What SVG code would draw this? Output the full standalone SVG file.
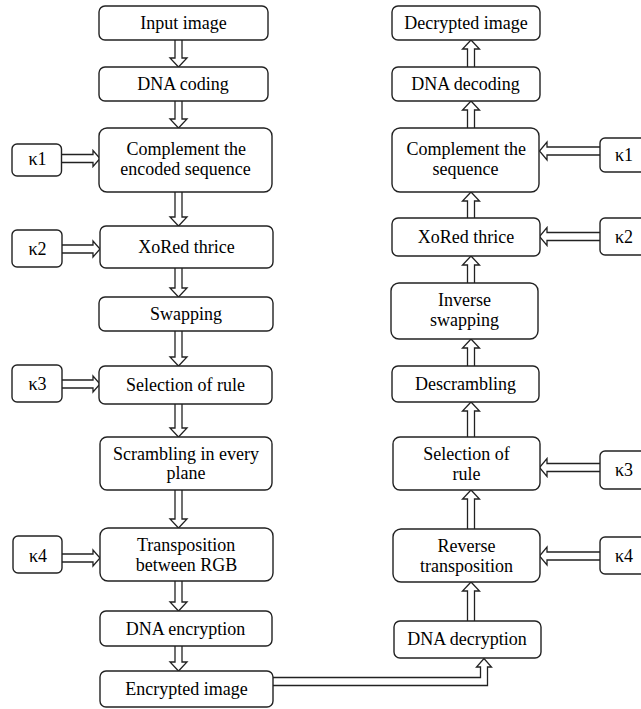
<svg xmlns="http://www.w3.org/2000/svg" width="641" height="709" viewBox="0 0 641 709">
<style>
.b{fill:#fff;stroke:#222;stroke-width:1.4}
.a{fill:#fff;stroke:#222;stroke-width:1.3}
</style>
<rect width="641" height="709" fill="#fff"/>
<g id="connectors">
<path class="a" d="M175 40V58H170L178.5 67L187 58H182V40"/>
<path class="a" d="M175 101V119H170L178.5 128L187 119H182V101"/>
<path class="a" d="M175 192V217H170L178.5 226L187 217H182V192"/>
<path class="a" d="M175 268V288H170L178.5 297L187 288H182V268"/>
<path class="a" d="M175 331V357H170L178.5 366L187 357H182V331"/>
<path class="a" d="M175 404V428H170L178.5 437L187 428H182V404"/>
<path class="a" d="M175 490V519H170L178.5 528L187 519H182V490"/>
<path class="a" d="M175 581V602H170L178.5 611L187 602H182V581"/>
<path class="a" d="M175 646V662H170L178.5 671L187 662H182V646"/>
<path class="a" d="M467.5 67V49H462.5L471 40L479.5 49H474.5V67"/>
<path class="a" d="M467.5 128V110H462.5L471 101L479.5 110H474.5V128"/>
<path class="a" d="M467.5 218V201H462.5L471 192L479.5 201H474.5V218"/>
<path class="a" d="M467.5 283V265H462.5L471 256L479.5 265H474.5V283"/>
<path class="a" d="M467.5 366V348H462.5L471 339L479.5 348H474.5V366"/>
<path class="a" d="M467.5 437V411H462.5L471 402L479.5 411H474.5V437"/>
<path class="a" d="M467.5 529V499H462.5L471 490L479.5 499H474.5V529"/>
<path class="a" d="M467.5 621V591H462.5L471 582L479.5 591H474.5V621"/>
<path class="a" d="M61.5 154.5H93V150.5L100 158.5L93 166.5V162.5H61.5"/>
<path class="a" d="M61.5 245H93V241L100 249L93 257V253H61.5"/>
<path class="a" d="M61.5 380H93V376L100 384L93 392V388H61.5"/>
<path class="a" d="M61.5 554H93V550L100 558L93 566V562H61.5"/>
<path class="a" d="M600 147H547V142L539.5 151L547 160V155H600"/>
<path class="a" d="M600 232.5H547V227.5L539.5 236.5L547 245.5V240.5H600"/>
<path class="a" d="M600 463.5H547V458.5L539.5 467.5L547 476.5V471.5H600"/>
<path class="a" d="M600 552H547V547L539.5 556L547 565V560H600"/>
<path class="a" d="M273 677.5H480.5V667H476.5L484 658.5L491.5 667H487.5V685.5H273"/>
</g>
<g id="n-input"><rect class="b" x="99" y="6" width="169" height="34" rx="6"/><text font-family="Liberation Serif" font-size="18" x="140.3" y="29">Input image</text></g>
<g id="n-dnacoding"><rect class="b" x="99" y="67" width="169" height="34" rx="6"/><text font-family="Liberation Serif" font-size="18" x="137.3" y="90">DNA coding</text></g>
<g id="n-complement"><rect class="b" x="99" y="128" width="173" height="64" rx="8"/><text font-family="Liberation Serif" font-size="18" x="126.6" y="155">Complement the</text><text font-family="Liberation Serif" font-size="18" x="120.3" y="174.5">encoded sequence</text></g>
<g id="k1-left"><rect class="b" x="12" y="144" width="49.5" height="32" rx="5"/><text font-family="Liberation Serif" font-size="18" x="28.5" y="165">κ1</text></g>
<g id="n-xored"><rect class="b" x="100" y="226" width="173" height="42" rx="6"/><text font-family="Liberation Serif" font-size="18" x="138.3" y="253">XoRed thrice</text></g>
<g id="k2-left"><rect class="b" x="12" y="230" width="50" height="37" rx="5"/><text font-family="Liberation Serif" font-size="18" x="28.5" y="255">κ2</text></g>
<g id="n-swapping"><rect class="b" x="99" y="297" width="174" height="34" rx="6"/><text font-family="Liberation Serif" font-size="18" x="150" y="320">Swapping</text></g>
<g id="n-selection"><rect class="b" x="99" y="366" width="173" height="38" rx="6"/><text font-family="Liberation Serif" font-size="18" x="126" y="391">Selection of rule</text></g>
<g id="k3-left"><rect class="b" x="12" y="365" width="50" height="37" rx="5"/><text font-family="Liberation Serif" font-size="18" x="28.5" y="390">κ3</text></g>
<g id="n-scrambling"><rect class="b" x="100" y="437" width="172" height="53" rx="7"/><text font-family="Liberation Serif" font-size="18" x="113" y="460">Scrambling in every</text><text font-family="Liberation Serif" font-size="18" x="166.5" y="479">plane</text></g>
<g id="n-transposition"><rect class="b" x="100" y="528" width="173" height="53" rx="8"/><text font-family="Liberation Serif" font-size="18" x="137" y="551">Transposition</text><text font-family="Liberation Serif" font-size="18" x="135.8" y="571">between RGB</text></g>
<g id="k4-left"><rect class="b" x="13" y="536" width="49" height="37" rx="5"/><text font-family="Liberation Serif" font-size="18" x="29" y="562">κ4</text></g>
<g id="n-dnaencryption"><rect class="b" x="100" y="611" width="172" height="35" rx="6"/><text font-family="Liberation Serif" font-size="18" x="125.8" y="634.5">DNA encryption</text></g>
<g id="n-encrypted"><rect class="b" x="100" y="671" width="173" height="36" rx="6"/><text font-family="Liberation Serif" font-size="18" x="125.3" y="694.5">Encrypted image</text></g>
<g id="n-decrypted"><rect class="b" x="392" y="6" width="148" height="34" rx="6"/><text font-family="Liberation Serif" font-size="18" x="404.3" y="29">Decrypted image</text></g>
<g id="n-dnadecoding"><rect class="b" x="392" y="67" width="148" height="34" rx="6"/><text font-family="Liberation Serif" font-size="18" x="411.3" y="90">DNA decoding</text></g>
<g id="n-complement2"><rect class="b" x="392" y="128" width="147" height="64" rx="8"/><text font-family="Liberation Serif" font-size="18" x="406.6" y="155">Complement the</text><text font-family="Liberation Serif" font-size="18" x="432.5" y="175">sequence</text></g>
<g id="k1-right"><rect class="b" x="600" y="138" width="50" height="34" rx="5"/><text font-family="Liberation Serif" font-size="18" x="615" y="161">κ1</text></g>
<g id="n-xored2"><rect class="b" x="392" y="218" width="148" height="38" rx="6"/><text font-family="Liberation Serif" font-size="18" x="417.8" y="243">XoRed thrice</text></g>
<g id="k2-right"><rect class="b" x="600" y="218" width="50" height="37" rx="5"/><text font-family="Liberation Serif" font-size="18" x="615" y="243">κ2</text></g>
<g id="n-inverse"><rect class="b" x="391" y="283" width="147" height="56" rx="8"/><text font-family="Liberation Serif" font-size="18" x="438" y="306">Inverse</text><text font-family="Liberation Serif" font-size="18" x="430" y="326">swapping</text></g>
<g id="n-descrambling"><rect class="b" x="392" y="366" width="147" height="36" rx="6"/><text font-family="Liberation Serif" font-size="18" x="415" y="389.5">Descrambling</text></g>
<g id="n-selection2"><rect class="b" x="393" y="437" width="147" height="53" rx="7"/><text font-family="Liberation Serif" font-size="18" x="423.3" y="460">Selection of</text><text font-family="Liberation Serif" font-size="18" x="452.5" y="480">rule</text></g>
<g id="k3-right"><rect class="b" x="600" y="451" width="50" height="38" rx="5"/><text font-family="Liberation Serif" font-size="18" x="615" y="476">κ3</text></g>
<g id="n-reverse"><rect class="b" x="393" y="529" width="147" height="53" rx="8"/><text font-family="Liberation Serif" font-size="18" x="437.5" y="552">Reverse</text><text font-family="Liberation Serif" font-size="18" x="420" y="572">transposition</text></g>
<g id="k4-right"><rect class="b" x="600" y="537" width="50" height="37" rx="5"/><text font-family="Liberation Serif" font-size="18" x="615" y="562">κ4</text></g>
<g id="n-dnadecryption"><rect class="b" x="394" y="621" width="147" height="37" rx="6"/><text font-family="Liberation Serif" font-size="18" x="407.3" y="645">DNA decryption</text></g>
</svg>
